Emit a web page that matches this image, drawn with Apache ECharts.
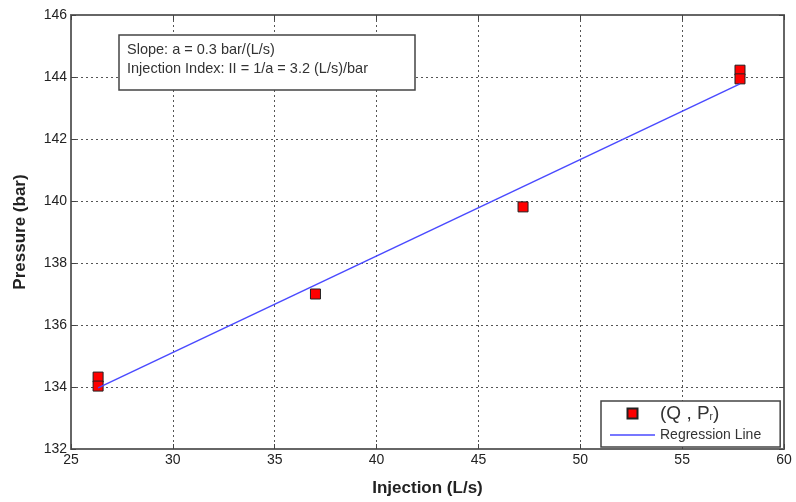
<!DOCTYPE html>
<html>
<head>
<meta charset="utf-8">
<script src="https://cdn.jsdelivr.net/npm/echarts@6/dist/echarts.min.js"></script>
<style>
  html, body { margin: 0; padding: 0; background: #fff; }
  #chart { width: 796px; height: 502px; }
</style>
</head>
<body>
<div id="chart"></div>
<script>
// measured points (Q, Pr)
const injection = [26.33, 26.33, 37.0, 47.19, 57.84, 57.84];
const pressure = [134.32, 134.03, 137.0, 139.81, 144.22, 143.94];
// regression line end points
const lineQ = [26.33, 57.84];
const lineP = [133.97, 143.78];

const xTicks = [25, 30, 35, 40, 45, 50, 55, 60];
const yTicks = [132, 134, 136, 138, 140, 142, 144, 146];

const noteLines = [
  'Slope: a = 0.3 bar/(L/s)',
  'Injection Index: II = 1/a = 3.2 (L/s)/bar'
];

const FONT = 'Liberation Sans, Arial, sans-serif';
const gridLine = { show: true, lineStyle: { color: '#555', type: [2, 3], width: 1 } };
const frameLine = { show: true, onZero: false, lineStyle: { color: '#666', width: 2 } };
const inTicks = { show: true, inside: true, length: 5, lineStyle: { color: '#444' } };

const chart = echarts.init(document.getElementById('chart'), null, { renderer: 'canvas' });

chart.setOption({
  animation: false,
  backgroundColor: '#fff',
  title: {
    text: noteLines.join('\n'),
    left: 119,
    top: 35,
    padding: [5, 47, 12, 8],
    borderColor: '#444',
    borderWidth: 1.5,
    backgroundColor: '#fff',
    textStyle: { fontFamily: FONT, fontSize: 14.5, fontWeight: 'normal', color: '#333', lineHeight: 19 }
  },
  legend: {
    orient: 'vertical',
    left: 601,
    top: 401,
    padding: [3, 19, 5, 9],
    itemGap: 5,
    itemWidth: 45,
    itemHeight: 10,
    borderColor: '#444',
    borderWidth: 1.5,
    backgroundColor: '#fff',
    data: [
      { name: '(Q , Pr)', icon: 'path://M0,0h10v10h-10z' },
      { name: 'Regression Line', icon: 'path://M0,0h45v1.5h-45z' }
    ],
    formatter: name => name === '(Q , Pr)' ? '{a|(Q , P}{s|r}{a|)}' : name,
    textStyle: {
      fontFamily: FONT, fontSize: 14, color: '#333',
      rich: {
        a: { fontFamily: FONT, fontSize: 19, color: '#333' },
        s: { fontFamily: FONT, fontSize: 10, color: '#333', padding: [8, 0, 0, 0] }
      }
    }
  },
  grid: { left: 71, right: 12, top: 15, bottom: 46, show: false },
  xAxis: [{
    type: 'value',
    min: xTicks[0],
    max: xTicks[xTicks.length - 1],
    interval: 5,
    name: 'Injection (L/s)',
    nameLocation: 'middle',
    nameGap: 31,
    nameTextStyle: { fontFamily: FONT, fontSize: 17, fontWeight: 'bold', color: '#222' },
    axisLine: frameLine,
    axisTick: inTicks,
    splitLine: gridLine,
    axisLabel: { fontFamily: FONT, fontSize: 14, color: '#222', margin: 4 }
  }, {
    type: 'value',
    position: 'top',
    min: xTicks[0],
    max: xTicks[xTicks.length - 1],
    interval: 5,
    axisLine: frameLine,
    axisTick: inTicks,
    splitLine: { show: false },
    axisLabel: { show: false }
  }],
  yAxis: [{
    type: 'value',
    min: yTicks[0],
    max: yTicks[yTicks.length - 1],
    interval: 2,
    name: 'Pressure (bar)',
    nameLocation: 'middle',
    nameGap: 42,
    nameTextStyle: { fontFamily: FONT, fontSize: 17, fontWeight: 'bold', color: '#222' },
    axisLine: frameLine,
    axisTick: inTicks,
    splitLine: gridLine,
    axisLabel: { fontFamily: FONT, fontSize: 14, color: '#222', margin: 4 }
  }, {
    type: 'value',
    position: 'right',
    min: yTicks[0],
    max: yTicks[yTicks.length - 1],
    interval: 2,
    axisLine: frameLine,
    axisTick: inTicks,
    splitLine: { show: false },
    axisLabel: { show: false }
  }],
  series: [{
    name: 'Regression Line',
    type: 'line',
    symbol: 'none',
    data: lineQ.map((q, i) => [q, lineP[i]]),
    lineStyle: { color: '#4a4aff', width: 1.5 },
    itemStyle: { color: '#4a4aff' },
    z: 3
  }, {
    name: '(Q , Pr)',
    type: 'scatter',
    symbol: 'rect',
    symbolSize: 10,
    data: injection.map((q, i) => [q, pressure[i]]),
    itemStyle: { color: '#ff0000', borderColor: '#222', borderWidth: 1, opacity: 1 },
    z: 2
  }]
});
</script>
</body>
</html>
